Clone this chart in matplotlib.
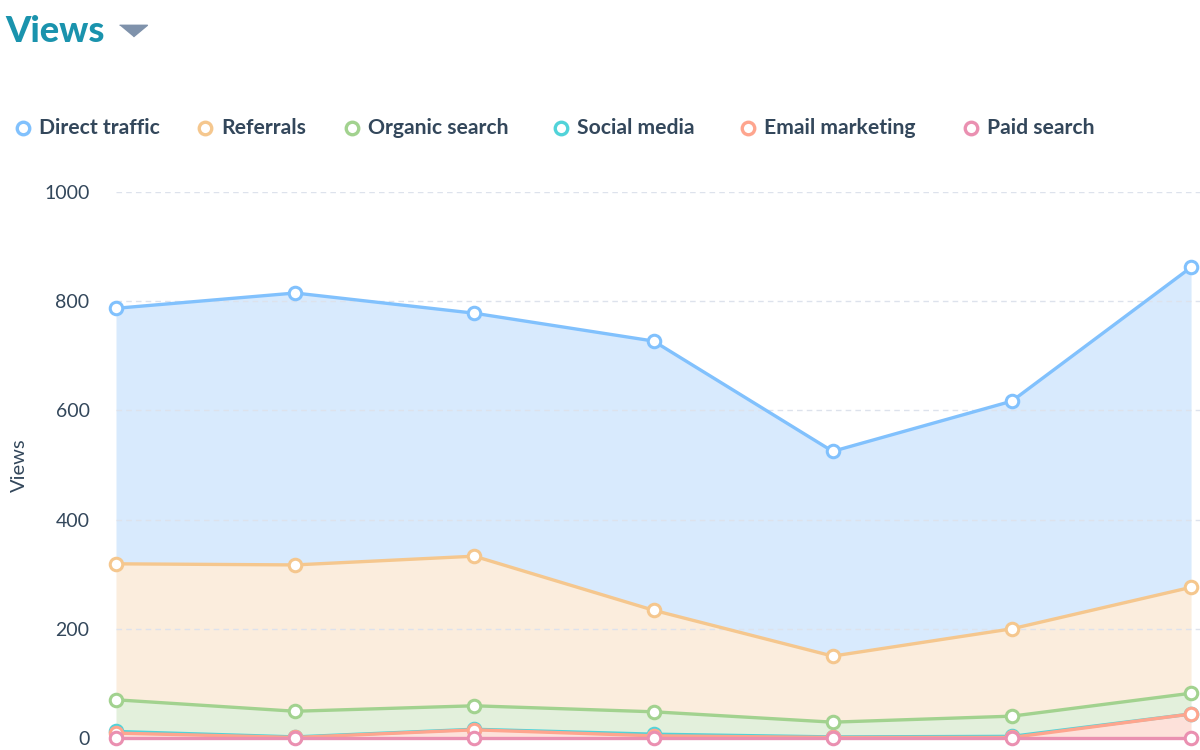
import numpy as np
import matplotlib
matplotlib.use("Agg")
import matplotlib.pyplot as plt
from matplotlib.lines import Line2D

# Weekly views by traffic source (individual values, drawn stacked)
series_names = ["Paid search", "Email marketing", "Social media",
                "Organic search", "Referrals", "Direct traffic"]
paid_search = [0, 0, 0, 0, 0, 0, 0]
email_marketing = [9, 1, 15, 4, 1, 1, 44]
social_media = [3, 1, 1, 3, 1, 2, 0]
organic_search = [58, 47, 43, 41, 27, 37, 38]
referrals = [249, 268, 274, 186, 121, 160, 194]
direct_traffic = [468, 498, 445, 493, 375, 417, 586]

y_ticks = [0, 200, 400, 600, 800, 1000]

line_colors = ["#ea90b1", "#fea58e", "#51d3d9", "#a2d28f", "#f5c78e", "#81c1fd"]
fill_colors = ["#fbe3ec", "#fde1da", "#d9f4f5", "#e3f0dc", "#fbeddd", "#d8eafd"]

legend_order = ["Direct traffic", "Referrals", "Organic search",
                "Social media", "Email marketing", "Paid search"]

plt.rcParams["font.family"] = ["Lato", "DejaVu Sans"]
text_color = "#33475b"

values = [paid_search, email_marketing, social_media,
          organic_search, referrals, direct_traffic]
x = np.arange(len(paid_search))
tops = np.cumsum(np.array(values, dtype=float), axis=0)

fig = plt.figure(figsize=(12, 7.5), dpi=100)
ax = fig.add_axes([116 / 1200, 12 / 750, 1084 / 1200, 546 / 750])

# stacked fills
for i in range(len(values)):
    lower = tops[i - 1] if i > 0 else np.zeros(len(x))
    ax.fill_between(x, lower, tops[i], color=fill_colors[i], lw=0, zorder=1)

# lines from top layer to bottom so the bottom ones sit on top
for i in reversed(range(len(values))):
    ax.plot(x, tops[i], color=line_colors[i], lw=2.4, marker="o", ms=9,
            mfc="white", mec=line_colors[i], mew=2.2, zorder=3 + (len(values) - i),
            clip_on=False)

ax.set_xlim(0, 6.05)
ax.set_ylim(0, 1000)
ax.set_yticks(y_ticks)
ax.set_yticklabels([str(t) for t in y_ticks], fontsize=14, color=text_color)
ax.set_xticks([])
ax.tick_params(axis="y", length=0, pad=19)
for s in ax.spines.values():
    s.set_visible(False)
ax.grid(axis="y", color="#dde2ec", ls=(0, (4, 3)), lw=1, zorder=2)
ax.set_axisbelow(False)
ax.set_ylabel("Views", fontsize=14.5, color=text_color, labelpad=12)

# title with dropdown arrow
fig.text(5 / 1200, 1 - 31 / 750, "Views", fontsize=26, fontweight="black",
         color="#1a93ad", va="center", ha="left")
fig.add_artist(Line2D([133 / 1200], [1 - 30 / 750],
                      marker=[(-1.2, 0.45), (1.2, 0.45), (0, -0.55)], ms=20,
                      color="#7f92ab", mec="#7f92ab", lw=0,
                      transform=fig.transFigure))

# legend
legend_x = [23, 205, 352, 561, 748, 971]
for name, lx in zip(legend_order, legend_x):
    c = line_colors[series_names.index(name)]
    fig.add_artist(Line2D([lx / 1200], [1 - 128 / 750], marker="o", ms=9,
                          mfc="white", mec=c, mew=2.4, transform=fig.transFigure))
    fig.text((lx + 16) / 1200, 1 - 128 / 750, name, fontsize=15.2,
             fontweight="bold", color=text_color, va="center", ha="left")

fig.savefig("out.png", dpi=100)
